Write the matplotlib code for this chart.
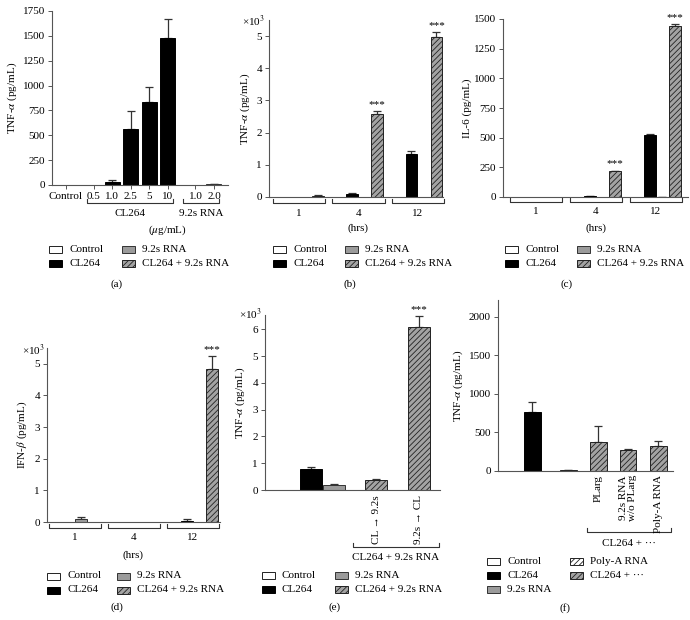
import matplotlib
matplotlib.use('Agg')
import matplotlib.pyplot as plt
from matplotlib.patches import Rectangle
from matplotlib import transforms
import numpy as np

plt.rcParams['font.family'] = ['Liberation Serif', 'DejaVu Serif']
plt.rcParams['mathtext.fontset'] = 'stix'
plt.rcParams['font.size'] = 8
plt.rcParams['hatch.linewidth'] = 0.6

# ---------------- data ----------------
# (a) dose response, TNF-alpha pg/mL
a_labels = ['Control', '0.5', '1.0', '2.5', '5', '10', '1.0', '2.0']
a_groups = ['Control', 'CL264', 'CL264', 'CL264', 'CL264', 'CL264', '9.2s RNA', '9.2s RNA']
a_values = [0, 0, 30, 560, 830, 1480, 0, 8]
a_err = [0, 0, 25, 185, 155, 190, 0, 3]

# time-course panels: hours
hours = ['1', '4', '12']
series = ['Control', 'CL264', '9.2s RNA', 'CL264 + 9.2s RNA']

# (b) TNF-alpha x10^3 pg/mL
b_values = {'Control': [0.01, 0.0, 0.0], 'CL264': [0.0, 0.09, 1.35],
            '9.2s RNA': [0.0, 0.0, 0.0], 'CL264 + 9.2s RNA': [0.04, 2.58, 4.98]}
b_err = {'Control': [0, 0, 0], 'CL264': [0, 0.02, 0.08],
         '9.2s RNA': [0, 0, 0], 'CL264 + 9.2s RNA': [0.01, 0.10, 0.15]}

# (c) IL-6 pg/mL
c_values = {'Control': [0, 0, 0], 'CL264': [0, 8, 525],
            '9.2s RNA': [0, 0, 3], 'CL264 + 9.2s RNA': [0, 215, 1440]}
c_err = {'Control': [0, 0, 0], 'CL264': [0, 2, 6],
         '9.2s RNA': [0, 0, 1], 'CL264 + 9.2s RNA': [0, 8, 15]}

# (d) IFN-beta x10^3 pg/mL
d_values = {'Control': [0, 0, 0], 'CL264': [0, 0, 0.03],
            '9.2s RNA': [0.10, 0, 0], 'CL264 + 9.2s RNA': [0, 0, 4.85]}
d_err = {'Control': [0, 0, 0], 'CL264': [0, 0, 0.05],
         '9.2s RNA': [0.05, 0, 0], 'CL264 + 9.2s RNA': [0, 0, 0.40]}

# (e) TNF-alpha x10^3 pg/mL, order of addition
e_labels = ['', '', '', 'CL → 9.2s', '9.2s → CL']
e_groups = ['Control', 'CL264', '9.2s RNA', 'CL264 + 9.2s RNA', 'CL264 + 9.2s RNA']
e_values = [0.0, 0.80, 0.20, 0.38, 6.10]
e_err = [0, 0.05, 0.03, 0.03, 0.38]

# (f) TNF-alpha pg/mL
f_labels = ['', '', '', '', 'PLarg', '9.2s RNA\nw/o PLarg', 'Poly-A RNA']
f_groups = ['Control', 'CL264', '9.2s RNA', 'Poly-A RNA', 'CL264 + ···', 'CL264 + ···', 'CL264 + ···']
f_values = [0, 770, 0, 10, 375, 270, 320]
f_err = [0, 130, 0, 3, 215, 20, 70]

# ---------------- styles ----------------
STY = {
    'Control': dict(facecolor='white', edgecolor='#222222'),
    'CL264': dict(facecolor='black', edgecolor='black'),
    '9.2s RNA': dict(facecolor='#9b9b9b', edgecolor='#333333'),
    'CL264 + 9.2s RNA': dict(facecolor='#a3a3a3', edgecolor='#222222', hatch='//////'),
    'Poly-A RNA': dict(facecolor='white', edgecolor='#222222', hatch='//////'),
    'CL264 + ···': dict(facecolor='#a3a3a3', edgecolor='#222222', hatch='//////'),
}

W, H = 690, 620
fig = plt.figure(figsize=(6.9, 6.2), dpi=100)


def fx(px):
    return px / W


def fy(py):
    return 1 - py / H


def make_ax(L, T, R, B):
    ax = fig.add_axes([L / W, 1 - B / H, (R - L) / W, (B - T) / H])
    for s in ['top', 'right']:
        ax.spines[s].set_visible(False)
    for s in ['left', 'bottom']:
        ax.spines[s].set_color('#555555')
        ax.spines[s].set_linewidth(0.8)
    ax.tick_params(axis='y', length=3, width=0.7, color='#555555', pad=2, labelsize=8)
    ax.tick_params(axis='x', length=0, labelsize=8)
    ax.set_xticks([])
    return ax


def bars(ax, x, v, e, group, width):
    st = STY[group]
    ax.bar(x, v, width, linewidth=0.7, zorder=2, **st)
    if e > 0:
        ax.errorbar([x], [v], yerr=[[0], [e]], fmt='none', ecolor='#333333',
                    elinewidth=0.9, capsize=3, capthick=0.9, zorder=1)


def bracket(ax, x0, x1, py, label=None, label_py=None, tick=4):
    tr = transforms.blended_transform_factory(ax.transData, fig.transFigure)
    ax.plot([x0, x0, x1, x1], [fy(py - tick), fy(py), fy(py), fy(py - tick)],
            transform=tr, clip_on=False, color='#333333', lw=0.8)
    if label:
        ax.text((x0 + x1) / 2, fy(label_py), label, transform=tr,
                ha='center', va='center', fontsize=8)


def legend(entries):
    for name, bx, ry in entries:
        r = Rectangle((fx(bx), fy(ry + 3.5)), 13 / W, 7 / H, transform=fig.transFigure,
                      linewidth=0.7, **STY[name])
        fig.add_artist(r)
        fig.text(fx(bx + 20), fy(ry), name, ha='left', va='center', fontsize=8)


def stars(ax, x, top):
    ax.annotate('***', (x, top), xytext=(0, 1.5), textcoords='offset points',
                ha='center', va='bottom', fontsize=8, annotation_clip=False)


def ylabel(px, T, B, text):
    fig.text(fx(px), fy((T + B) / 2), text, rotation=90, ha='center', va='center', fontsize=8)


def timecourse(ax, vals, errs, centers, width=0.95):
    offs = [-1.5, -0.5, 0.5, 1.5]
    for k, s in enumerate(series):
        for g in range(len(hours)):
            bars(ax, centers[g] + offs[k], vals[s][g], errs[s][g], s, width)


# ---------------- (a) ----------------
ax = make_ax(52, 11, 228, 185)
ax.set_ylim(0, 1750)
ax.set_yticks(np.arange(0, 1751, 250))
ax.set_xlim(-0.76, 8.76)
a_pos = [0, 1.5, 2.5, 3.5, 4.5, 5.5, 7, 8]
for x, v, e, g in zip(a_pos, a_values, a_err, a_groups):
    bars(ax, x, v, e, g, 0.81)
ax.set_xticks(a_pos, a_labels)
ax.tick_params(axis='x', length=3, width=0.7, color='#555555', pad=2)
bracket(ax, 1.12, 5.8, 203, 'CL264', 213)
bracket(ax, 6.3, 8.3, 203, '9.2s RNA', 213)
fig.text(fx(167), fy(230), r'($\mu$g/mL)', ha='center', va='center', fontsize=8)
ylabel(12, 11, 185, r'TNF-$\alpha$ (pg/mL)')
legend([('Control', 49, 249), ('CL264', 49, 263),
        ('9.2s RNA', 122, 249), ('CL264 + 9.2s RNA', 122, 263)])
fig.text(fx(117), fy(284), '(a)', ha='center', va='center', fontsize=8)

# ---------------- (b) ----------------
ax = make_ax(269, 20, 443, 197)
ax.set_ylim(0, 5.5)
ax.set_yticks(range(0, 6))
ax.set_xlim(-2.4, 11.52)
cen = [0, 4.75, 9.5]
timecourse(ax, b_values, b_err, cen)
for g in range(3):
    bracket(ax, cen[g] - 2.1, cen[g] + 2.1, 203, hours[g], 213)
for g in [1, 2]:
    stars(ax, cen[g] + 1.5, b_values['CL264 + 9.2s RNA'][g] + b_err['CL264 + 9.2s RNA'][g])
fig.text(fx(358), fy(228), '(hrs)', ha='center', va='center', fontsize=8)
fig.text(fx(265), fy(21), r'×10$^3$', ha='right', va='center', fontsize=8)
ylabel(245, 20, 197, r'TNF-$\alpha$ (pg/mL)')
legend([('Control', 273, 249), ('CL264', 273, 263),
        ('9.2s RNA', 345, 249), ('CL264 + 9.2s RNA', 345, 263)])
fig.text(fx(350), fy(284), '(b)', ha='center', va='center', fontsize=8)

# ---------------- (c) ----------------
ax = make_ax(503, 19, 688, 197)
ax.set_ylim(0, 1500)
ax.set_yticks(np.arange(0, 1501, 250))
ax.set_xlim(-2.64, 12.16)
cen = [0, 4.8, 9.6]
timecourse(ax, c_values, c_err, cen)
for g in range(3):
    bracket(ax, cen[g] - 2.1, cen[g] + 2.1, 202, hours[g], 212)
for g in [1, 2]:
    stars(ax, cen[g] + 1.5, c_values['CL264 + 9.2s RNA'][g] + c_err['CL264 + 9.2s RNA'][g])
fig.text(fx(596), fy(228), '(hrs)', ha='center', va='center', fontsize=8)
ylabel(467, 19, 197, 'IL-6 (pg/mL)')
legend([('Control', 505, 249), ('CL264', 505, 263),
        ('9.2s RNA', 577, 249), ('CL264 + 9.2s RNA', 577, 263)])
fig.text(fx(567), fy(284), '(c)', ha='center', va='center', fontsize=8)

# ---------------- (d) ----------------
ax = make_ax(47, 348, 220, 522)
ax.set_ylim(0, 5.5)
ax.set_yticks(range(0, 6))
ax.set_xlim(-2.24, 11.6)
cen = [0, 4.72, 9.44]
timecourse(ax, d_values, d_err, cen)
for g in range(3):
    bracket(ax, cen[g] - 2.1, cen[g] + 2.1, 528, hours[g], 538)
stars(ax, cen[2] + 1.5, d_values['CL264 + 9.2s RNA'][2] + d_err['CL264 + 9.2s RNA'][2])
fig.text(fx(133), fy(555), '(hrs)', ha='center', va='center', fontsize=8)
fig.text(fx(45), fy(350), r'×10$^3$', ha='right', va='center', fontsize=8)
ylabel(22, 348, 522, r'IFN-$\beta$ (pg/mL)')
legend([('Control', 47, 576), ('CL264', 47, 590),
        ('9.2s RNA', 117, 576), ('CL264 + 9.2s RNA', 117, 590)])
fig.text(fx(117), fy(607), '(d)', ha='center', va='center', fontsize=8)

# ---------------- (e) ----------------
ax = make_ax(265, 315, 440, 490)
ax.set_ylim(0, 6.53)
ax.set_yticks(range(0, 7))
ax.set_xlim(-0.94, 6.51)
e_pos = [0, 1, 2, 3.8, 5.6]
tr = transforms.blended_transform_factory(ax.transData, fig.transFigure)
for x, v, e, g, lab in zip(e_pos, e_values, e_err, e_groups, e_labels):
    bars(ax, x, v, e, g, 0.94)
    if lab:
        ax.text(x, fy(495), lab, transform=tr, rotation=90, ha='center', va='top', fontsize=8)
stars(ax, e_pos[4], e_values[4] + e_err[4])
bracket(ax, 2.8, 6.45, 547, 'CL264 + 9.2s RNA', 558)
fig.text(fx(262), fy(314), r'×10$^3$', ha='right', va='center', fontsize=8)
ylabel(240, 315, 490, r'TNF-$\alpha$ (pg/mL)')
legend([('Control', 262, 575), ('CL264', 262, 589),
        ('9.2s RNA', 335, 575), ('CL264 + 9.2s RNA', 335, 589)])
fig.text(fx(335), fy(607), '(e)', ha='center', va='center', fontsize=8)

# ---------------- (f) ----------------
ax = make_ax(498, 300, 673, 471)
ax.set_ylim(0, 2220)
ax.set_yticks(np.arange(0, 2001, 500))
ax.set_xlim(-0.9, 8.83)
f_pos = [0, 1, 2, 3, 4.67, 6.33, 8]
tr = transforms.blended_transform_factory(ax.transData, fig.transFigure)
for x, v, e, g, lab in zip(f_pos, f_values, f_err, f_groups, f_labels):
    bars(ax, x, v, e, g, 0.94)
    if lab:
        ax.text(x, fy(475), lab, transform=tr, rotation=90, ha='center', va='top',
                fontsize=8, linespacing=1.0)
bracket(ax, 4.05, 8.7, 532, 'CL264 + ···', 543)
ylabel(458, 300, 471, r'TNF-$\alpha$ (pg/mL)')
legend([('Control', 487, 561), ('CL264', 487, 575), ('9.2s RNA', 487, 589),
        ('Poly-A RNA', 570, 561), ('CL264 + ···', 570, 575)])
fig.text(fx(565), fy(608), '(f)', ha='center', va='center', fontsize=8)

fig.savefig('out.png', dpi=100)
